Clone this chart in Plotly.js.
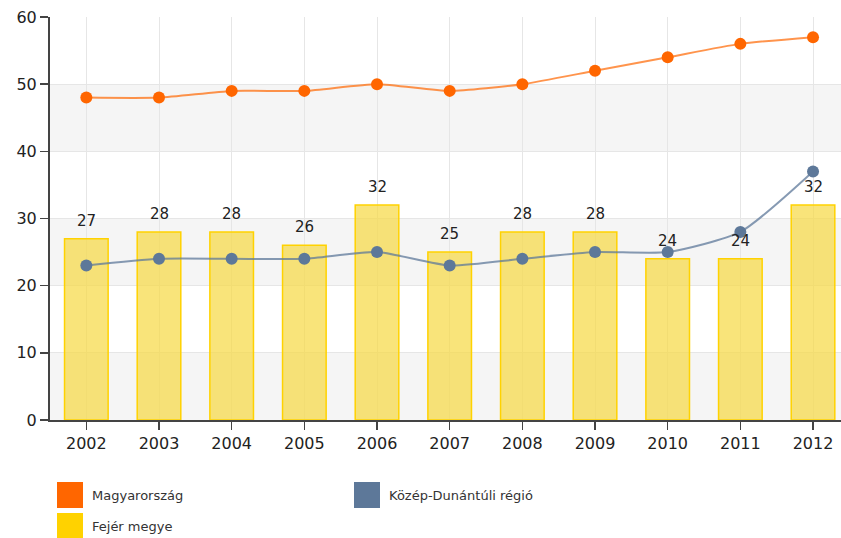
<!DOCTYPE html>
<html>
<head>
<meta charset="utf-8">
<script src="https://cdn.plot.ly/plotly-3.0.1.min.js"></script>
<style>html,body{margin:0;padding:0;background:#fff;}#chart{width:841px;height:538px;}</style>
</head>
<body>
<div id="chart"></div>
<script>
const years = ['2002','2003','2004','2005','2006','2007','2008','2009','2010','2011','2012'];
const magyarorszag = [48, 48, 49, 49, 50, 49, 50, 52, 54, 56, 57];
const kozepDunantuli = [23, 24, 24, 24, 25, 23, 24, 25, 25, 28, 37];
const fejerMegye = [27, 28, 28, 26, 32, 25, 28, 28, 24, 24, 32];
const seriesNames = ['Magyarország', 'Közép-Dunántúli régió', 'Fejér megye'];
const yTicks = [0, 10, 20, 30, 40, 50, 60];

const FONT = 'DejaVu Sans, Verdana, sans-serif';
const ORANGE = '#FF6600', BLUE = '#5D7899', GOLD = '#FFD200';

// pixel -> paper helpers (plot area: x 50..841, y 17..420)
const L = 50, R = 0, T = 17, B = 118, W = 841, H = 538;
const pw = W - L - R, ph = H - T - B;
const px = x => (x - L) / pw;
const py = y => (H - B - y) / ph;

const traces = [
  {
    type: 'bar', x: years, y: fejerMegye, name: seriesNames[2],
    width: 0.6,
    marker: {color: 'rgba(247,218,70,0.72)', line: {color: '#FFD200', width: 1.5}},
    hoverinfo: 'x+y'
  },
  {
    type: 'scatter', mode: 'lines+markers', x: years, y: kozepDunantuli, name: seriesNames[1],
    line: {color: 'rgba(93,120,153,0.75)', width: 2, shape: 'spline', smoothing: 0.6},
    marker: {color: BLUE, size: 12}
  },
  {
    type: 'scatter', mode: 'lines+markers', x: years, y: magyarorszag, name: seriesNames[0],
    line: {color: 'rgba(255,102,0,0.7)', width: 2, shape: 'spline', smoothing: 0.6},
    marker: {color: ORANGE, size: 12}
  }
];

const shapes = [];
// alternating horizontal bands
for (let i = 0; i < yTicks.length - 1; i += 2) {
  shapes.push({type: 'rect', xref: 'paper', yref: 'y', x0: 0, x1: 1, y0: yTicks[i], y1: yTicks[i + 1],
    fillcolor: '#F5F5F5', line: {width: 0}, layer: 'below'});
}
// legend swatches
const legendItems = [
  {name: seriesNames[0], color: ORANGE, x: 57, y: 482},
  {name: seriesNames[1], color: BLUE, x: 354, y: 482},
  {name: seriesNames[2], color: GOLD, x: 57, y: 513}
];
const annotations = [];
legendItems.forEach(it => {
  shapes.push({type: 'rect', xref: 'paper', yref: 'paper', x0: px(it.x), x1: px(it.x + 26),
    y0: py(it.y), y1: py(it.y + 26), fillcolor: it.color, line: {color: it.color, width: 0}});
  annotations.push({xref: 'paper', yref: 'paper', x: px(it.x + 33), y: py(it.y + 13),
    xanchor: 'left', yanchor: 'middle', showarrow: false, text: it.name,
    font: {family: FONT, size: 13, color: '#333'}});
});
// bar value labels (x given as category index)
years.forEach((yr, i) => {
  annotations.push({xref: 'x', yref: 'y', x: i, y: fejerMegye[i], text: String(fejerMegye[i]),
    showarrow: false, xanchor: 'center', yanchor: 'middle', yshift: 18,
    font: {family: FONT, size: 15, color: '#222'}});
});

const layout = {
  width: W, height: H,
  margin: {l: L, r: R, t: T, b: B, pad: 0},
  paper_bgcolor: '#fff', plot_bgcolor: '#fff',
  showlegend: false,
  font: {family: FONT, size: 15, color: '#222'},
  xaxis: {
    type: 'category', range: [-0.5, 10.385],
    showgrid: true, gridcolor: '#E6E6E6', gridwidth: 1,
    showline: true, linecolor: '#444', linewidth: 2,
    ticks: 'outside', ticklen: 8, tickcolor: '#444', tickwidth: 1.5,
    tickfont: {family: FONT, size: 16, color: '#222'},
    fixedrange: true
  },
  yaxis: {
    range: [0, 60], tickvals: yTicks, zeroline: false,
    showgrid: true, gridcolor: '#E6E6E6', gridwidth: 1,
    showline: true, linecolor: '#444', linewidth: 2,
    ticks: 'outside', ticklen: 8, tickcolor: '#444', tickwidth: 1.5,
    tickfont: {family: FONT, size: 16, color: '#222'},
    fixedrange: true
  },
  shapes: shapes,
  annotations: annotations
};

Plotly.newPlot('chart', traces, layout, {displayModeBar: false, staticPlot: true});
</script>
</body>
</html>
